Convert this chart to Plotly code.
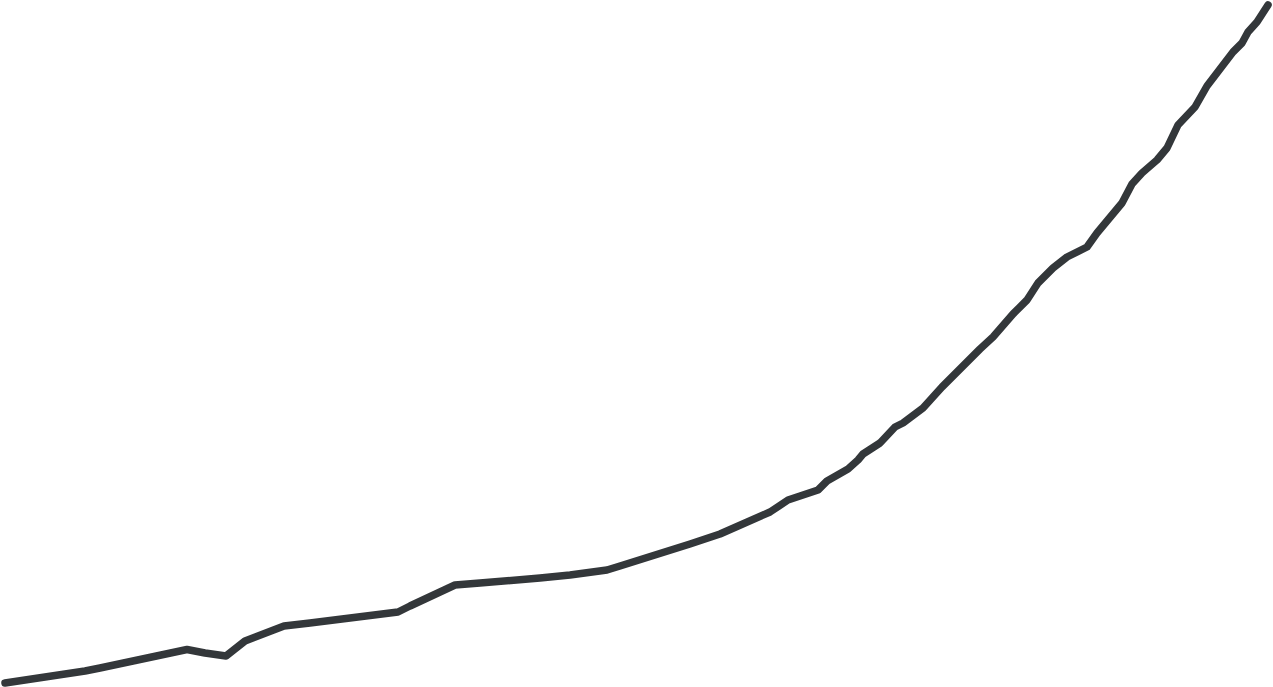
import plotly.graph_objects as go

x_vals = [5, 20, 40, 55, 70, 85, 100, 115, 130, 145, 160, 175, 187, 205, 226, 245, 265, 284,
          310, 340, 370, 398, 410, 430, 455, 480, 510, 540, 570, 607, 620, 640, 660, 690,
          720, 755, 770, 788, 805, 818, 827, 848, 858, 863, 880, 895, 903, 923, 942, 953,
          962, 980, 993, 1013, 1027, 1038, 1053, 1067, 1087, 1097, 1112, 1122, 1132, 1142,
          1157, 1167, 1178, 1185, 1195, 1207, 1223, 1233, 1242, 1248, 1257, 1268]
y_px = [683, 681, 678, 676, 674, 671, 668, 665, 662, 658.5, 655.5, 652.5, 649.5, 653, 656, 641, 634, 626,
        623, 619, 615, 612, 606, 597, 585, 583, 581, 578, 575, 570, 566, 560, 553, 544,
        534, 520, 512, 500, 495, 490, 481, 469, 460, 454, 443, 427, 423, 408, 387, 377,
        367, 349, 337, 314, 300, 283, 268, 257, 247, 233, 214, 203, 184, 173, 160, 148,
        125, 118, 107, 86, 64, 52, 43, 32, 22, 5]
y_vals = [687 - v for v in y_px]

fig = go.Figure(go.Scatter(x=x_vals, y=y_vals, mode="lines",
                           line=dict(color="#33373a", width=7.5)))
fig.update_layout(
    width=1273, height=687,
    margin=dict(l=0, r=0, t=0, b=0),
    paper_bgcolor="white", plot_bgcolor="white",
    showlegend=False,
    xaxis=dict(visible=False, range=[0, 1273]),
    yaxis=dict(visible=False, range=[0, 687]),
)
fig.write_html("out.html", config={"displayModeBar": False},
               post_script="document.body.style.margin='0';document.body.style.overflow='hidden';"
                           "document.querySelectorAll('.scatterlayer path.js-line').forEach(function(p){p.style.strokeLinejoin='round';p.style.strokeLinecap='round';});")
